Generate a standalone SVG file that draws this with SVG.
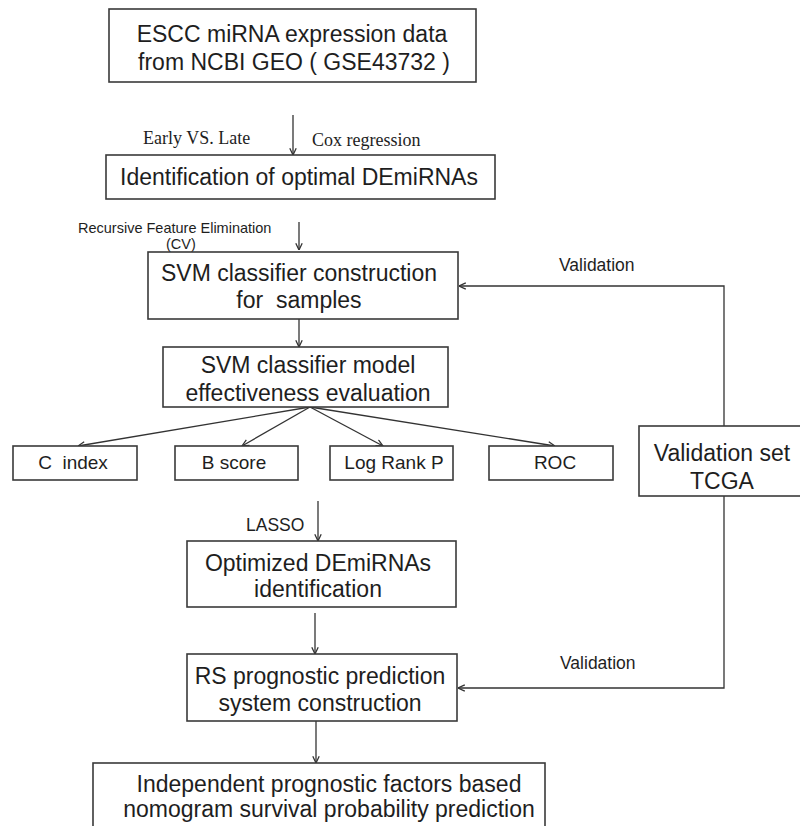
<svg xmlns="http://www.w3.org/2000/svg" width="800" height="826" viewBox="0 0 800 826">
<defs>
<style>
.box{fill:#fff;stroke:#3a3a3a;stroke-width:1.6}
.t{font-family:"Liberation Sans",Arial,sans-serif;font-size:23px;fill:#1e1e1e;text-anchor:middle;white-space:pre}
.leaf{font-family:"Liberation Sans",Arial,sans-serif;font-size:19px;fill:#1e1e1e;text-anchor:middle;white-space:pre}
.lbl{font-family:"Liberation Sans",Arial,sans-serif;font-size:17.5px;fill:#1e1e1e}
.sm{font-family:"Liberation Sans",Arial,sans-serif;font-size:14.5px;fill:#1e1e1e}
.ser{font-family:"Liberation Serif","Times New Roman",serif;font-size:18px;fill:#1e1e1e}
.c{fill:none;stroke:#333;stroke-width:1.3}
</style>
<marker id="ah" viewBox="0 0 10 10" refX="9.5" refY="5" markerWidth="8" markerHeight="8" markerUnits="userSpaceOnUse" orient="auto">
<path d="M1,1 L9.5,5 L1,9" fill="none" stroke="#333" stroke-width="1.6"/>
</marker>
</defs>
<rect width="800" height="826" fill="#fff"/>

<g id="connectors">
<line class="c" x1="293" y1="115" x2="293" y2="155" marker-end="url(#ah)"/>
<line class="c" x1="299" y1="222" x2="299" y2="250" marker-end="url(#ah)"/>
<line class="c" x1="299" y1="319" x2="299" y2="347" marker-end="url(#ah)"/>
<line class="c" x1="310" y1="407" x2="78" y2="446" marker-end="url(#ah)"/>
<line class="c" x1="310" y1="407" x2="242" y2="446" marker-end="url(#ah)"/>
<line class="c" x1="310" y1="407" x2="383" y2="446" marker-end="url(#ah)"/>
<line class="c" x1="310" y1="407" x2="555" y2="446" marker-end="url(#ah)"/>
<line class="c" x1="318" y1="501" x2="318" y2="541" marker-end="url(#ah)"/>
<line class="c" x1="315" y1="613" x2="315" y2="654" marker-end="url(#ah)"/>
<line class="c" x1="316" y1="721" x2="316" y2="763" marker-end="url(#ah)"/>
<polyline class="c" points="724,426 724,286 459,286" marker-end="url(#ah)"/>
<polyline class="c" points="724,496 724,688 458,688" marker-end="url(#ah)"/>
<text class="ser" x="143" y="144">Early VS. Late</text>
<text class="ser" x="312" y="146">Cox regression</text>
<text class="sm" x="78" y="233">Recursive Feature Elimination</text>
<text class="sm" x="166" y="249">(CV)</text>
<text class="lbl" x="559" y="271">Validation</text>
<text class="lbl" x="560" y="669">Validation</text>
<text class="lbl" x="246" y="531">LASSO</text>
</g>

<g id="n1">
<rect class="box" x="109" y="9" width="367" height="73"/>
<text class="t" x="292" y="42">ESCC miRNA expression data</text>
<text class="t" x="294" y="70">from NCBI GEO ( GSE43732 )</text>
</g>
<g id="n2">
<rect class="box" x="106" y="155" width="389" height="44"/>
<text class="t" x="299" y="185">Identification of optimal DEmiRNAs</text>
</g>
<g id="n3">
<rect class="box" x="148" y="252" width="310" height="67"/>
<text class="t" x="299" y="281">SVM classifier construction</text>
<text class="t" x="299" y="308">for  samples</text>
</g>
<g id="n4">
<rect class="box" x="163" y="347" width="285" height="60"/>
<text class="t" x="308" y="373">SVM classifier model</text>
<text class="t" x="308" y="401">effectiveness evaluation</text>
</g>
<g id="n5">
<rect class="box" x="13" y="446" width="124" height="34"/>
<text class="leaf" x="73" y="469">C  index</text>
</g>
<g id="n6">
<rect class="box" x="175" y="446" width="123" height="34"/>
<text class="leaf" x="234" y="469">B score</text>
</g>
<g id="n7">
<rect class="box" x="330" y="446" width="123" height="34"/>
<text class="leaf" x="394" y="469">Log Rank P</text>
</g>
<g id="n8">
<rect class="box" x="489" y="446" width="124" height="34"/>
<text class="leaf" x="555" y="469">ROC</text>
</g>
<g id="n9">
<rect class="box" x="639" y="426" width="170" height="70"/>
<text class="t" x="722" y="461">Validation set</text>
<text class="t" x="722" y="489">TCGA</text>
</g>
<g id="n10">
<rect class="box" x="187" y="541" width="269" height="66"/>
<text class="t" x="318" y="571">Optimized DEmiRNAs</text>
<text class="t" x="318" y="597">identification</text>
</g>
<g id="n11">
<rect class="box" x="187" y="654" width="270" height="67"/>
<text class="t" x="320" y="684">RS prognostic prediction</text>
<text class="t" x="320" y="711">system construction</text>
</g>
<g id="n12">
<rect class="box" x="93" y="763" width="452" height="80"/>
<text class="t" x="329" y="792">Independent prognostic factors based</text>
<text class="t" x="329" y="817">nomogram survival probability prediction</text>
</g>
</svg>
